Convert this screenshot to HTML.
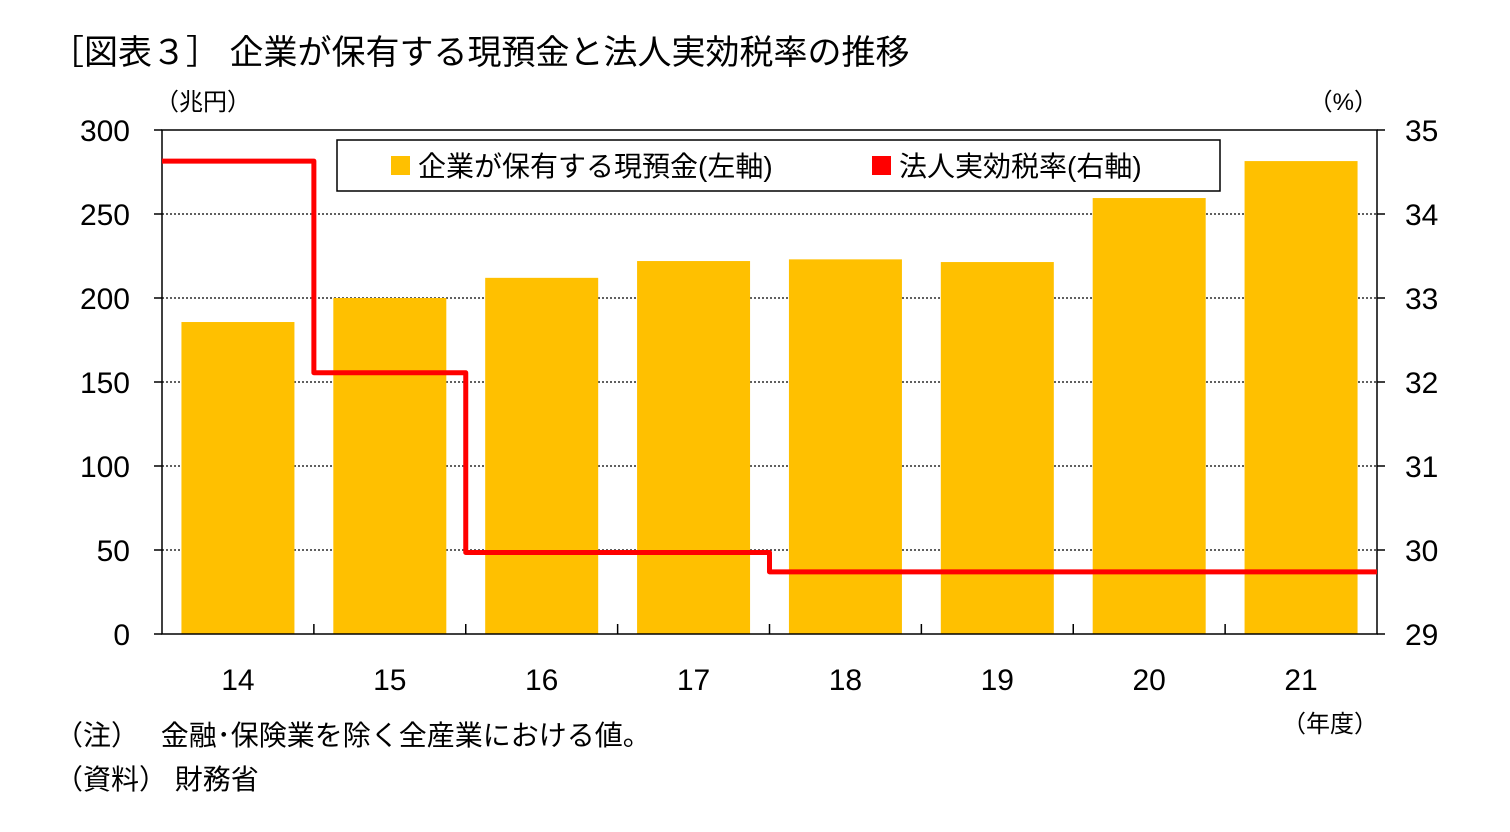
<!DOCTYPE html>
<html><head><meta charset="utf-8">
<style>
body{margin:0;background:#fff;}
svg text{font-family:"Liberation Sans","Noto Sans CJK JP",sans-serif;fill:#000;}
</style></head>
<body>
<svg width="1510" height="827">
<text x="50" y="64" font-size="34">［図表３］ 企業が保有する現預金と法人実効税率の推移</text>
<text x="155" y="110" font-size="24">（兆円）</text>
<text x="1378" y="110" font-size="24" text-anchor="end">（%）</text>
<g id="grid"></g>
<g id="bars"></g>
<g id="axes"></g>
<g id="line"></g>
<g>
<rect x="337" y="140" width="883" height="51" fill="#fff" stroke="#000" stroke-width="1.5"/>
<rect x="391" y="156" width="19" height="19" fill="#FFC000"/>
<text x="418" y="176" font-size="28">企業が保有する現預金(左軸)</text>
<rect x="872" y="156" width="19" height="19" fill="#FF0000"/>
<text x="899" y="176" font-size="28">法人実効税率(右軸)</text>
</g>
<text x="1378" y="732" font-size="24" text-anchor="end">（年度）</text>
<text x="55" y="745" font-size="28">（注）　 金融･保険業を除く全産業における値。</text>
<text x="55" y="789" font-size="28">（資料）  財務省</text>
</svg>
<script>
const categories=["14","15","16","17","18","19","20","21"];
const cashValues=[185.7,200,212,222,223,221.4,259.5,281.5];
const taxRates=[34.63,32.11,29.97,29.97,29.74,29.74,29.74,29.74];
const leftTicks=[0,50,100,150,200,250,300];
const rightTicks=[29,30,31,32,33,34,35];
const ns="http://www.w3.org/2000/svg";
const X0=162,X1=1377,Y0=634,Y1=130;
const cw=(X1-X0)/categories.length;
const yL=v=>Y0-(v/300)*(Y0-Y1);
const yR=v=>Y0-((v-29)/6)*(Y0-Y1);
function mk(p,t,a){const e=document.createElementNS(ns,t);for(const k in a)e.setAttribute(k,a[k]);document.getElementById(p).appendChild(e);return e;}
leftTicks.forEach(v=>{
 if(v>0&&v<300){const g=mk("grid","line",{x1:X0,x2:X1,y1:yL(v),y2:yL(v),stroke:"#000","stroke-width":1.2,"stroke-dasharray":"2,2"});
 }
 const t=mk("axes","text",{x:130,y:yL(v)+11,"font-size":30,"text-anchor":"end"});t.textContent=v;
 
});
rightTicks.forEach(v=>{
 const t=mk("axes","text",{x:1405,y:yR(v)+11,"font-size":30});t.textContent=v;
 
 mk("axes","line",{x1:X1,x2:X1+8,y1:yR(v),y2:yR(v),stroke:"#000","stroke-width":1.5});
});
leftTicks.forEach(v=>{mk("axes","line",{x1:X0-8,x2:X0,y1:yL(v),y2:yL(v),stroke:"#000","stroke-width":1.5});});
mk("axes","rect",{x:X0,y:Y1,width:X1-X0,height:Y0-Y1,fill:"none",stroke:"#000","stroke-width":1.5});
categories.forEach((c,i)=>{
 const cx=X0+cw*(i+0.5);
 const b=mk("bars","rect",{x:cx-56.5,y:yL(cashValues[i]),width:113,height:Y0-yL(cashValues[i]),fill:"#FFC000"});
 
 const t=mk("axes","text",{x:cx,y:690,"font-size":30,"text-anchor":"middle"});t.textContent=c;
 
 if(i>0)mk("axes","line",{x1:X0+cw*i,x2:X0+cw*i,y1:Y0,y2:Y0-10,stroke:"#000","stroke-width":1.5});
});
let d="M"+X0+","+yR(taxRates[0]);
taxRates.forEach((v,i)=>{ if(i>0)d+=" L"+(X0+cw*i)+","+yR(v); d+=" L"+(X0+cw*(i+1))+","+yR(v);});
const p=mk("line","path",{d:d,fill:"none",stroke:"#FF0000","stroke-width":5,"stroke-linejoin":"round"});


</script>
</body></html>
